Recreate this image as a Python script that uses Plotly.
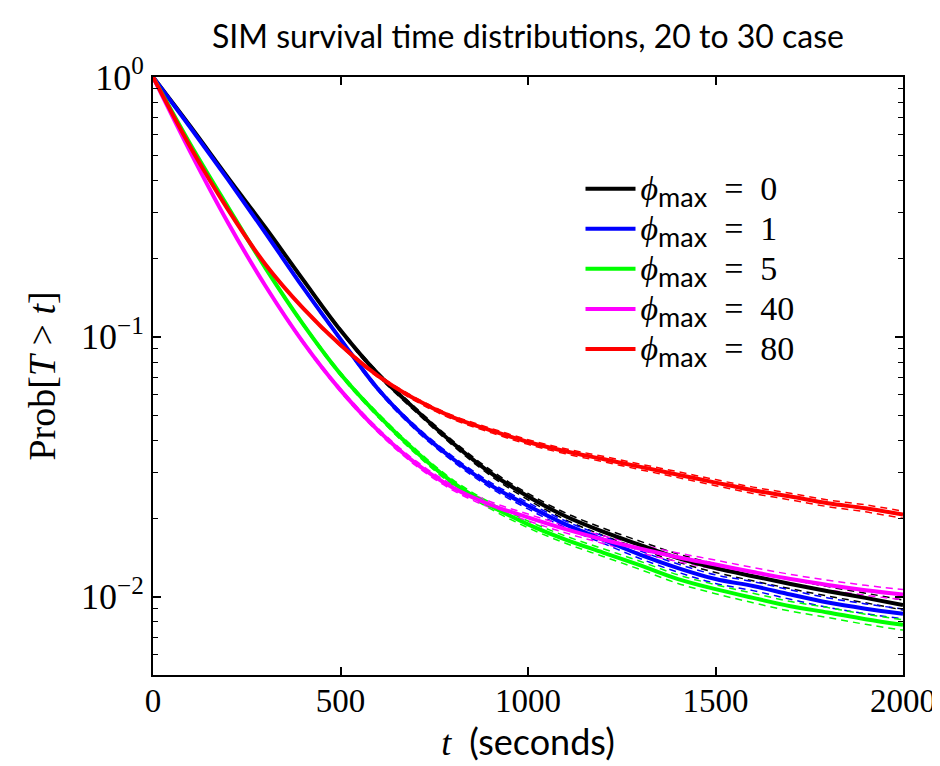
import plotly.graph_objects as go

# survival curves (Prob[T > t]), every 100 s
t = [0, 100, 200, 300, 400, 500, 600, 700, 800, 900, 1000,
     1100, 1200, 1300, 1400, 1500, 1600, 1700, 1800, 1900, 2000]

p_phi0 = [1.0, 0.645, 0.41, 0.263, 0.166, 0.106, 0.072, 0.0525, 0.039, 0.030, 0.0243,
          0.0204, 0.0178, 0.0158, 0.0141, 0.0129, 0.0120, 0.0112, 0.0105, 0.0099, 0.0093]
p_phi1 = [1.0, 0.638, 0.403, 0.251, 0.155, 0.098, 0.063, 0.0447, 0.0339, 0.0269, 0.0224,
          0.0190, 0.0166, 0.0145, 0.0129, 0.0117, 0.0110, 0.0102, 0.0095, 0.0090, 0.0086]
p_phi5 = [1.0, 0.55, 0.316, 0.184, 0.112, 0.072, 0.050, 0.0363, 0.0275, 0.0224, 0.0190,
          0.0166, 0.0148, 0.0132, 0.0117, 0.0107, 0.0099, 0.0092, 0.0087, 0.0082, 0.0078]
p_phi40 = [1.0, 0.513, 0.275, 0.157, 0.0955, 0.0624, 0.0437, 0.0327, 0.0263, 0.0226, 0.0202,
           0.0182, 0.0166, 0.0153, 0.0142, 0.0133, 0.01245, 0.0117, 0.0111, 0.0106, 0.0102]
p_phi80 = [1.0, 0.537, 0.309, 0.19, 0.129, 0.093, 0.0708, 0.0575, 0.049, 0.0437, 0.0394,
           0.0363, 0.0339, 0.0316, 0.0295, 0.0275, 0.0257, 0.0243, 0.0229, 0.0219, 0.0207]

# half width of the dashed confidence band, in percent of the curve value
hw_phi0 = [0, 0.4, 0.6, 0.8, 1.0, 1.3, 1.6, 1.9, 2.2, 2.5, 2.8,
           3.0, 3.2, 3.4, 3.6, 3.8, 4.0, 4.1, 4.2, 4.3, 4.4]
hw_phi1 = [0, 0.4, 0.6, 0.8, 1.0, 1.3, 1.6, 1.9, 2.2, 2.5, 2.8,
           3.0, 3.2, 3.4, 3.6, 3.8, 4.0, 4.1, 4.2, 4.3, 4.4]
hw_phi5 = [0, 0.4, 0.7, 0.9, 1.2, 1.5, 1.8, 2.1, 2.4, 2.7, 3.0,
           3.2, 3.4, 3.6, 3.8, 4.0, 4.2, 4.3, 4.4, 4.5, 4.6]
hw_phi40 = [0, 0.4, 0.7, 0.9, 1.2, 1.5, 1.8, 2.1, 2.4, 2.7, 3.0,
            3.2, 3.4, 3.6, 3.8, 4.0, 4.1, 4.2, 4.3, 4.4, 4.5]
hw_phi80 = [0, 0.4, 0.6, 0.8, 0.9, 1.1, 1.3, 1.5, 1.7, 1.9, 2.1,
            2.2, 2.4, 2.5, 2.6, 2.7, 2.8, 2.9, 3.0, 3.1, 3.2]

phi_labels = ["0", "1", "5", "40", "80"]
colors = ["#000000", "#0000ff", "#00ff00", "#ff00ff", "#ff0000"]

SERIF = "Liberation Serif"
SANS = "Lato"

series = [p_phi0, p_phi1, p_phi5, p_phi40, p_phi80]
bands = [hw_phi0, hw_phi1, hw_phi5, hw_phi40, hw_phi80]

fig = go.Figure()

# dashed bounds first, then the solid curves on top
for vals, hw, col in zip(series, bands, colors):
    upper = [v * (1 + h / 100) for v, h in zip(vals, hw)]
    lower = [v * (1 - h / 100) for v, h in zip(vals, hw)]
    for b in (upper, lower):
        fig.add_trace(go.Scatter(
            x=t, y=b, mode="lines", showlegend=False, hoverinfo="skip",
            line=dict(color=col, width=1.5, dash="7px,5px", shape="spline"),
        ))

# legend row height follows the legend font size, the visible text is set larger
for vals, lab, col in zip(series, phi_labels, colors):
    fig.add_trace(go.Scatter(
        x=t, y=vals, mode="lines",
        name=(f'<span style="font-size:34px"><i>ϕ</i>'
              f'<sub><span style="font-family:{SANS};font-size:27px">max</span></sub>'
              f'\u2002=\u2002{lab}</span>'),
        line=dict(color=col, width=4, shape="spline"),
    ))

fig.update_layout(
    width=940, height=766,
    margin=dict(l=145, r=33, t=69, b=99),
    paper_bgcolor="white", plot_bgcolor="white",
    title=dict(text="SIM survival time distributions, 20 to 30 case",
               xref="paper", x=0.5, xanchor="center", y=0.962, yanchor="middle",
               font=dict(family=SANS, size=32, color="black")),
    font=dict(family=SERIF, color="black"),
    showlegend=True,
    legend=dict(x=0.57, y=0.855, xanchor="left", yanchor="top",
                bgcolor="rgba(255,255,255,0)", borderwidth=0,
                font=dict(family=SERIF, size=28.5, color="black"),
                tracegroupgap=0, itemwidth=50),
)

fig.update_xaxes(
    range=[0, 2000], tickvals=[0, 500, 1000, 1500, 2000],
    ticks="inside", ticklen=8, tickwidth=1.5, tickcolor="black",
    showline=True, linewidth=2, linecolor="black", mirror="ticks",
    showgrid=False, zeroline=False,
    tickfont=dict(family=SERIF, size=33), ticklabeloverflow="allow",
    ticklabelstandoff=-5,
    title=dict(text=f'<i>t</i>  <span style="font-family:{SANS}">(seconds)</span>',
               font=dict(family=SERIF, size=36), standoff=12),
)

fig.update_yaxes(
    type="log", range=[-2.30103, 0],
    tickvals=[0.01, 0.1, 1], ticktext=["10<sup>−2</sup>", "10<sup>−1</sup>", "10<sup>0</sup>"],
    ticks="inside", ticklen=8, tickwidth=1.5, tickcolor="black",
    minor=dict(ticks="inside", ticklen=5, tickwidth=1.2, tickcolor="black",
               tickvals=[0.005, 0.006, 0.007, 0.008, 0.009,
                         0.02, 0.03, 0.04, 0.05, 0.06, 0.07, 0.08, 0.09,
                         0.2, 0.3, 0.4, 0.5, 0.6, 0.7, 0.8, 0.9],
               showgrid=False),
    showline=True, linewidth=2, linecolor="black", mirror="ticks",
    showgrid=False, zeroline=False,
    tickfont=dict(family=SERIF, size=36),
    title=dict(text="Prob[<i>T</i> > <i>t</i>]", font=dict(family=SERIF, size=38), standoff=14),
)

fig.write_html("out.html")
